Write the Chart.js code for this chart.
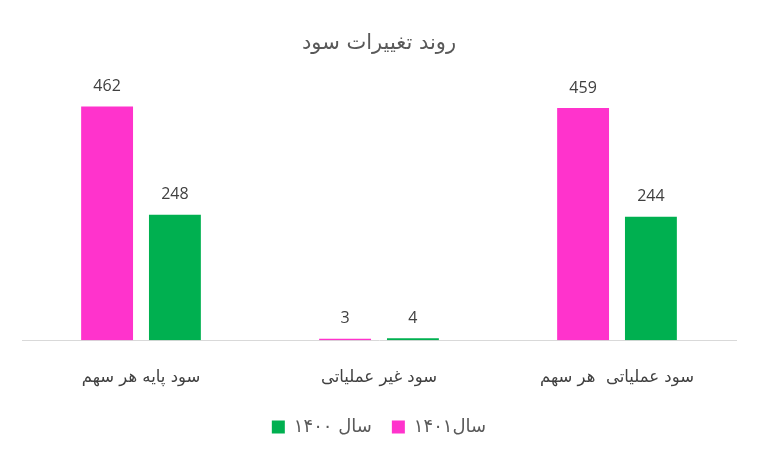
<!DOCTYPE html>
<html>
<head>
<meta charset="utf-8">
<script src="https://cdn.jsdelivr.net/npm/chart.js@4"></script>
<style>
  body { margin: 0; background: #fff; }
  #wrap { width: 760px; height: 455px; position: relative; }
</style>
</head>
<body>
<div id="wrap"><canvas id="profitChart"></canvas></div>
<script>
const categories = ['سود پایه هر سهم', 'سود غیر عملیاتی', 'سود عملیاتی  هر سهم'];
const values1401 = [462, 3, 459];
const values1400 = [248, 4, 244];
const seriesNames = ['سال۱۴۰۱', 'سال ۱۴۰۰'];
const chartTitle = 'روند تغییرات سود';

// draws value labels above each bar
const barValueLabels = {
  id: 'barValueLabels',
  afterDatasetsDraw(chart) {
    const ctx = chart.ctx;
    ctx.save();
    ctx.font = '16px "Open Sans", sans-serif';
    ctx.fillStyle = '#404040';
    ctx.textAlign = 'center';
    ctx.textBaseline = 'middle';
    chart.data.datasets.forEach((ds, i) => {
      chart.getDatasetMeta(i).data.forEach((bar, j) => {
        ctx.fillText(ds.data[j], bar.x, bar.y - 20);
      });
    });
    ctx.restore();
  }
};

document.addEventListener('DOMContentLoaded', () => {
  const ctx = document.getElementById('profitChart');
  new Chart(ctx, {
    type: 'bar',
    data: {
      labels: categories,
      datasets: [
        { label: seriesNames[0], data: values1401, backgroundColor: '#FF33CC' },
        { label: seriesNames[1], data: values1400, backgroundColor: '#00B050' }
      ]
    },
    options: {
      responsive: true,
      maintainAspectRatio: false,
      animation: false,
      categoryPercentage: 0.57,
      barPercentage: 0.765,
      layout: { padding: { left: 22, right: 24, top: 27, bottom: 9 } },
      plugins: {
        title: {
          display: true,
          text: chartTitle,
          color: '#595959',
          font: { family: 'DejaVu Sans', size: 21, weight: 'normal' },
          padding: { top: 4, bottom: 31 }
        },
        legend: {
          position: 'bottom',
          reverse: true,
          labels: {
            boxWidth: 13,
            boxHeight: 13,
            color: '#595959',
            padding: 20,
            font: { family: 'DejaVu Sans', size: 18 }
          }
        },
        tooltip: { enabled: false }
      },
      scales: {
        y: {
          display: false,
          beginAtZero: true,
          max: 500
        },
        x: {
          grid: { display: false },
          border: { display: true, color: '#d9d9d9', width: 1 },
          ticks: {
            color: '#404040',
            padding: 20,
            font: { family: 'DejaVu Sans', size: 16.5 }
          },
          afterFit(scale) { scale.height -= 10; }
        }
      }
    },
    plugins: [barValueLabels]
  });
});
</script>
</body>
</html>
